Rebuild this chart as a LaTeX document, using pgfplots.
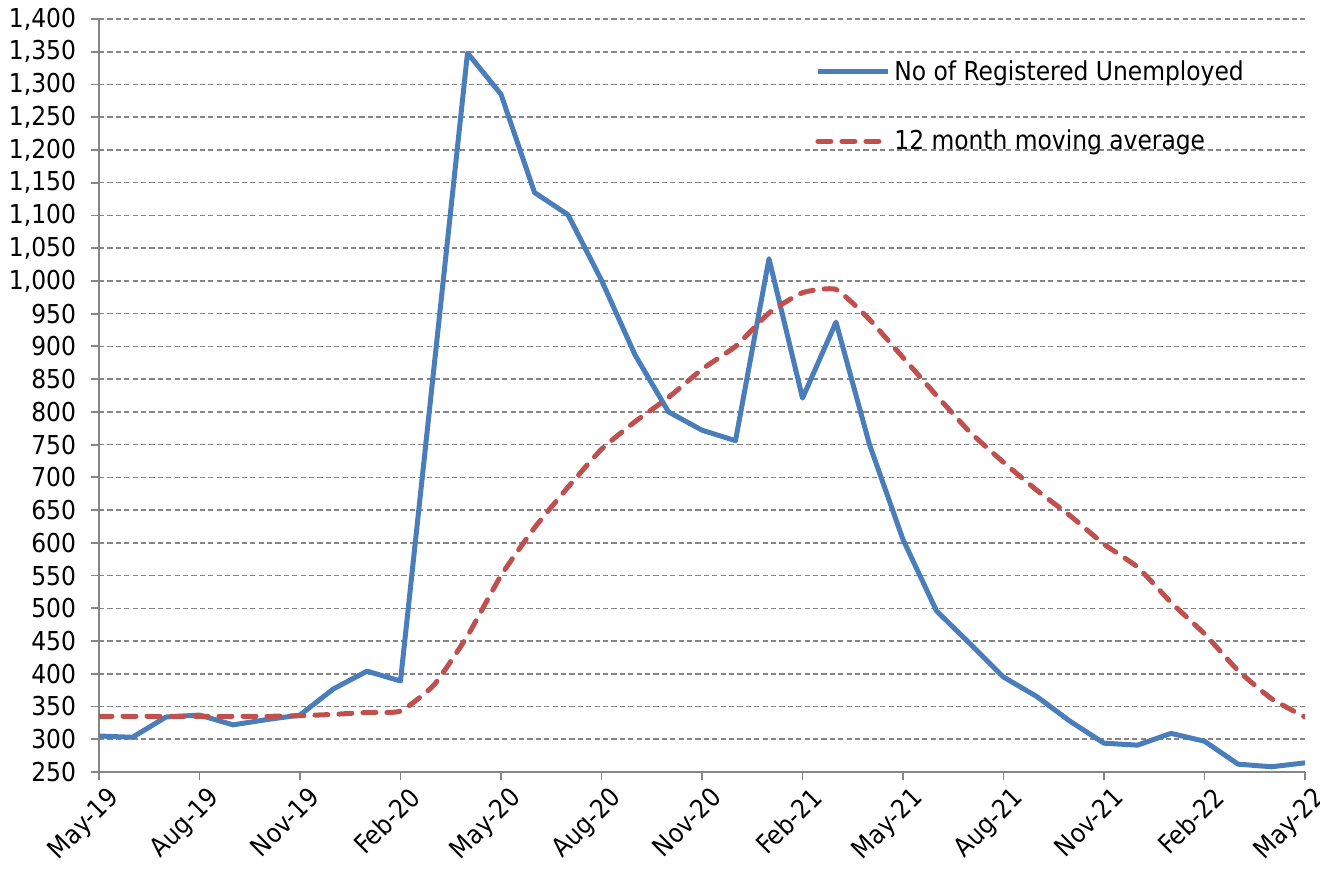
\documentclass[border=0pt]{standalone}
\usepackage{fontspec}
\setmainfont{DejaVu Sans Condensed}
\usepackage{pgfplots}
\pgfplotsset{compat=1.18}
\definecolor{xlblue}{HTML}{4A7EBB}
\definecolor{xlred}{HTML}{C0504D}
\definecolor{gridgray}{HTML}{868686}
\begin{document}
\begin{tikzpicture}
\useasboundingbox (0,0) rectangle (660pt,436.5pt);
\begin{axis}[
  at={(49.5pt,50.5pt)}, anchor=south west,
  width=603pt, height=376.5pt, scale only axis,
  xmin=0, xmax=36, ymin=250, ymax=1400,
  xtick={0,3,...,36},
  xticklabels={May-19,Aug-19,Nov-19,Feb-20,May-20,Aug-20,Nov-20,Feb-21,May-21,Aug-21,Nov-21,Feb-22,May-22},
  ytick distance=50,
  axis x line*=bottom, axis y line*=left,
  axis line style={gridgray, line width=0.9pt, -},
  tick style={gridgray, line width=0.9pt},
  tick align=outside, major tick length=4pt,
  ymajorgrids,
  grid style={gridgray, line width=0.8pt, dash pattern=on 2.6pt off 1.6pt},
  /pgf/number format/.cd, 1000 sep={,}, assume math mode=true, /pgfplots/.cd,
  tick label style={font=\fontsize{13}{15.6}\selectfont, black},
  yticklabel style={xshift=-4pt},
  xticklabel style={rotate=45, anchor=north east, xshift=4pt, yshift=-1pt},
  legend style={font=\fontsize{13}{15.6}\selectfont, draw=none, fill=none,
    inner sep=0pt, at={(rel axis cs:0.5937,0.951)}, anchor=north west,
    row sep=19.5pt, cells={anchor=west}},
  legend image code/.code={\draw[#1] (0pt,0pt) -- (35pt,0pt);},
]
\addplot[xlblue, line width=2.5pt, line join=round] coordinates {
(0,305) (1,303) (2,334) (3,337) (4,322) (5,330) (6,337) (7,377) (8,404) (9,389)
(10,868) (11,1348) (12,1285) (13,1135) (14,1101) (15,1001) (16,887) (17,800)
(18,772) (19,756) (20,1034) (21,821) (22,937) (23,750) (24,605) (25,496)
(26,446) (27,395) (28,365) (29,327) (30,294) (31,291) (32,309) (33,297)
(34,262) (35,258) (36,264)};
\addlegendentry{No of Registered Unemployed}
\addplot[xlred, line width=2.5pt, line cap=round, line join=round, dash pattern=on 6.5pt off 5.5pt, smooth, tension=0.3] coordinates {
(0,335) (1,335) (2,335) (3,335) (4,335) (5,335) (6,336) (7,338) (8,341) (9,343)
(10,383) (11,458) (12,550) (13,623) (14,685) (15,743) (16,785) (17,822)
(18,865) (19,900) (20,951) (21,982) (22,987) (23,941) (24,883) (25,825)
(26,769) (27,723) (28,680) (29,641) (30,598) (31,563) (32,509) (33,461)
(34,405) (35,362) (36,334)};
\addlegendentry{12 month moving average}
\end{axis}
\end{tikzpicture}
\end{document}
